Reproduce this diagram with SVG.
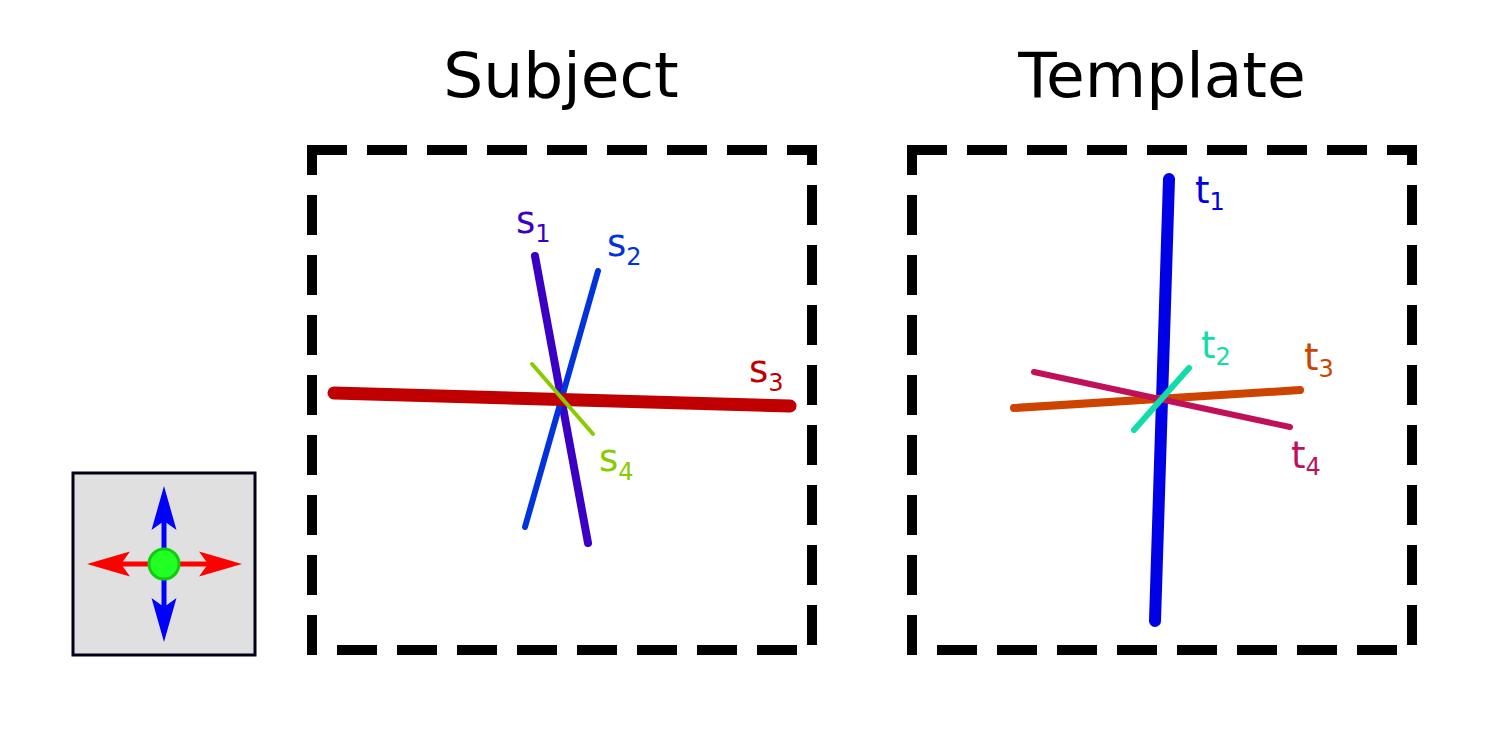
<svg xmlns="http://www.w3.org/2000/svg" width="1500" height="750" viewBox="0 0 1500 750">
<style>
.title{font-family:"DejaVu Sans",sans-serif;font-size:63px;fill:#000;text-anchor:middle}
.lbl{font-family:"DejaVu Sans",sans-serif;font-size:37px}
.sub{font-size:24px}
.frame{fill:none;stroke:#000;stroke-width:10;stroke-dasharray:40 20;stroke-dashoffset:5}
.seg{fill:none;stroke-linecap:round}
</style>
<rect width="1500" height="750" fill="#fff"/>
<g id="titles">
<text class="title" x="561" y="97">Subject</text>
<text class="title" x="1162" y="97">Template</text>
</g>
<g id="legend">
<rect x="73" y="473" width="182" height="182" fill="#e0e0e0" stroke="#000018" stroke-width="3"/>
<line x1="110" y1="564" x2="220" y2="564" stroke="#ff0000" stroke-width="5"/>
<line x1="164" y1="510" x2="164" y2="620" stroke="#0000ff" stroke-width="5"/>
<path d="M87,564 L130,551.5 L121,564 L130,576.5 Z" fill="#ff0000"/>
<path d="M242,564 L199,551.5 L208,564 L199,576.5 Z" fill="#ff0000"/>
<path d="M164,486 L151.5,530 L164,521 L176.5,530 Z" fill="#0000ff"/>
<path d="M164,642 L151.5,598 L164,607 L176.5,598 Z" fill="#0000ff"/>
<circle cx="164" cy="564" r="15" fill="#22ff22" stroke="#11cc11" stroke-width="3"/>
</g>
<g id="subject">
<rect class="frame" x="312" y="150" width="500" height="500"/>
<line class="seg" x1="535" y1="256" x2="588" y2="543" stroke="#3a00c4" stroke-width="8"/>
<line class="seg" x1="598" y1="271" x2="525" y2="527" stroke="#0033dd" stroke-width="6"/>
<line class="seg" x1="334" y1="393" x2="790" y2="406" stroke="#c00000" stroke-width="13"/>
<line class="seg" x1="532" y1="364" x2="593" y2="434" stroke="#88cc00" stroke-width="4"/>
<text class="lbl" x="516" y="233" fill="#3a00c4">s<tspan class="sub" dy="9">1</tspan></text>
<text class="lbl" x="607" y="256" fill="#0033dd">s<tspan class="sub" dy="9">2</tspan></text>
<text class="lbl" x="749" y="382" fill="#c00000">s<tspan class="sub" dy="9">3</tspan></text>
<text class="lbl" x="599" y="471" fill="#88cc00">s<tspan class="sub" dy="9">4</tspan></text>
</g>
<g id="template">
<rect class="frame" x="912" y="150" width="500" height="500"/>
<line class="seg" x1="1169" y1="179" x2="1155" y2="621" stroke="#0000e6" stroke-width="12"/>
<line class="seg" x1="1014" y1="408" x2="1300" y2="390" stroke="#cc4400" stroke-width="8"/>
<line class="seg" x1="1034" y1="372" x2="1290" y2="427" stroke="#c0105a" stroke-width="6"/>
<line class="seg" x1="1189" y1="368" x2="1134" y2="430" stroke="#11ddaa" stroke-width="6"/>
<text class="lbl" x="1195" y="203" fill="#0000e6">t<tspan class="sub" dy="7">1</tspan></text>
<text class="lbl" x="1201" y="358" fill="#11ddaa">t<tspan class="sub" dy="7">2</tspan></text>
<text class="lbl" x="1304" y="370" fill="#cc4400">t<tspan class="sub" dy="7">3</tspan></text>
<text class="lbl" x="1291" y="468" fill="#c0105a">t<tspan class="sub" dy="7">4</tspan></text>
</g>
</svg>
